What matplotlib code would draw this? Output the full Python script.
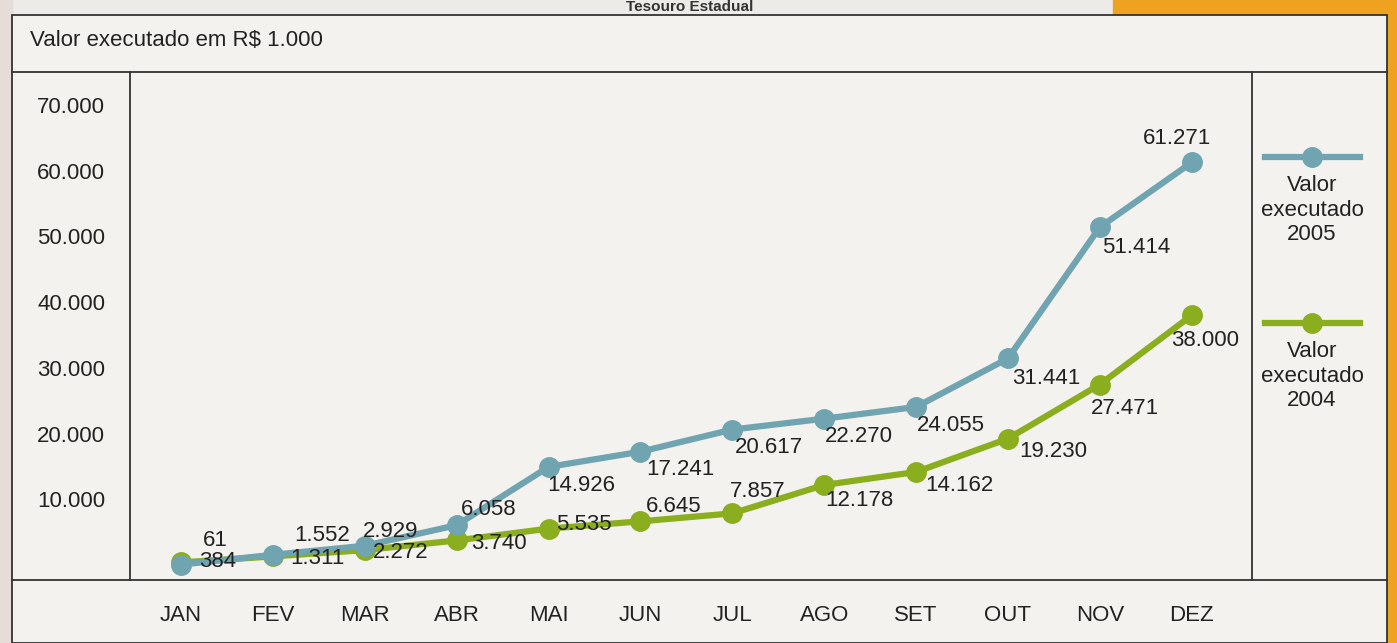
import matplotlib.pyplot as plt
from matplotlib.lines import Line2D
from matplotlib.patches import Rectangle

plt.rcParams['font.family'] = ['Liberation Sans', 'DejaVu Sans']

# Data (R$ 1.000)
months = ['JAN', 'FEV', 'MAR', 'ABR', 'MAI', 'JUN', 'JUL', 'AGO', 'SET', 'OUT', 'NOV', 'DEZ']
valor_2005 = [61, 1552, 2929, 6058, 14926, 17241, 20617, 22270, 24055, 31441, 51414, 61271]
valor_2004 = [384, 1311, 2272, 3740, 5535, 6645, 7857, 12178, 14162, 19230, 27471, 38000]
y_ticks = [10000, 20000, 30000, 40000, 50000, 60000, 70000]

blue = '#6fa4b0'
green = '#8aae1e'
text_col = '#222222'
fs = 16

# label offsets in pixels (right, up)
off_2005 = [(34, 24), (49, 19), (26, 14), (32, 16), (33, -19), (40, -18),
            (37, -18), (35, -18), (35, -19), (38, -20), (36, -20), (-15, 24)]
off_2004 = [(37, 1), (45, -2), (36, -2), (42, -3), (35, 4), (33, 15),
            (25, 22), (35, -16), (43, -14), (45, -13), (25, -24), (13, -25)]

W, H = 1397, 643
fig = plt.figure(figsize=(W / 100, H / 100), dpi=100)
fig.patch.set_facecolor('#ecebe8')


def fx(px):
    return px / W


def fy(py):
    return 1 - py / H


def fmt(v):
    return f'{v:,}'.replace(',', '.')


# background pieces of the photographed page
fig.add_artist(Rectangle((fx(1113), fy(20)), fx(W - 1113), 20 / H, color='#eea21f', zorder=-3))
fig.add_artist(Rectangle((fx(1387), 0), fx(10), 1, color='#eea21f', zorder=-3))
fig.add_artist(Rectangle((0, 0), fx(12), 1, color='#e6dcd8', zorder=-3))
fig.add_artist(Rectangle((fx(12), 0), fx(1387 - 12), fy(15), facecolor='#f3f2ef',
                         edgecolor='#333333', lw=1.3, zorder=-2))
fig.text(fx(690), fy(0), 'Tesouro Estadual', ha='center', va='top',
         fontsize=11, fontweight='bold', color='#333333')

# table lines
for y in (72, 580):
    fig.add_artist(Line2D([fx(12), fx(1387)], [fy(y), fy(y)], color='#333333', lw=1.3, zorder=-1))
fig.add_artist(Line2D([fx(130), fx(130)], [fy(72), fy(580)], color='#333333', lw=1.3, zorder=-1))
fig.add_artist(Line2D([fx(1252), fx(1252)], [fy(72), fy(580)], color='#333333', lw=1.3, zorder=-1))

fig.text(fx(30), fy(41), 'Valor executado em R$ 1.000', ha='left', va='center',
         fontsize=fs, color=text_col)

ax = fig.add_axes([fx(130), fy(580), fx(1245 - 130), (580 - 72) / H])
ax.set_facecolor('none')
x = list(range(len(months)))

ax.plot(x, valor_2005, color=blue, lw=4.5, marker='o', ms=14, zorder=3)
ax.plot(x, valor_2004, color=green, lw=4.5, marker='o', ms=14, zorder=2)

for i in x:
    ax.annotate(fmt(valor_2005[i]), (i, valor_2005[i]),
                xytext=(off_2005[i][0] * 0.72, off_2005[i][1] * 0.72), textcoords='offset points',
                ha='center', va='center', fontsize=fs, color=text_col, zorder=4)
    ax.annotate(fmt(valor_2004[i]), (i, valor_2004[i]),
                xytext=(off_2004[i][0] * 0.72, off_2004[i][1] * 0.72), textcoords='offset points',
                ha='center', va='center', fontsize=fs, color=text_col, zorder=4)

ax.set_xlim(-0.555, 11.58)
ax.set_ylim(-2283, 75038)
ax.set_xticks(x)
ax.set_xticklabels(months)
ax.set_yticks(y_ticks)
ax.set_yticklabels([fmt(v) for v in y_ticks])
ax.tick_params(axis='both', length=0, labelsize=fs, colors=text_col)
ax.tick_params(axis='y', pad=18)
ax.tick_params(axis='x', pad=18)
for s in ax.spines.values():
    s.set_visible(False)

# legend drawn in the right column
for yy, col, yr in ((157, blue, '2005'), (323, green, '2004')):
    fig.add_artist(Line2D([fx(1265), fx(1360)], [fy(yy), fy(yy)], color=col, lw=4.5))
    fig.add_artist(Line2D([fx(1312)], [fy(yy)], color=col, marker='o', ms=14))
    fig.text(fx(1312), fy(yy + 53), f'Valor\nexecutado\n{yr}', ha='center', va='center',
             fontsize=fs, color=text_col, linespacing=1.2)

fig.savefig('out.png', dpi=100, facecolor=fig.get_facecolor())
